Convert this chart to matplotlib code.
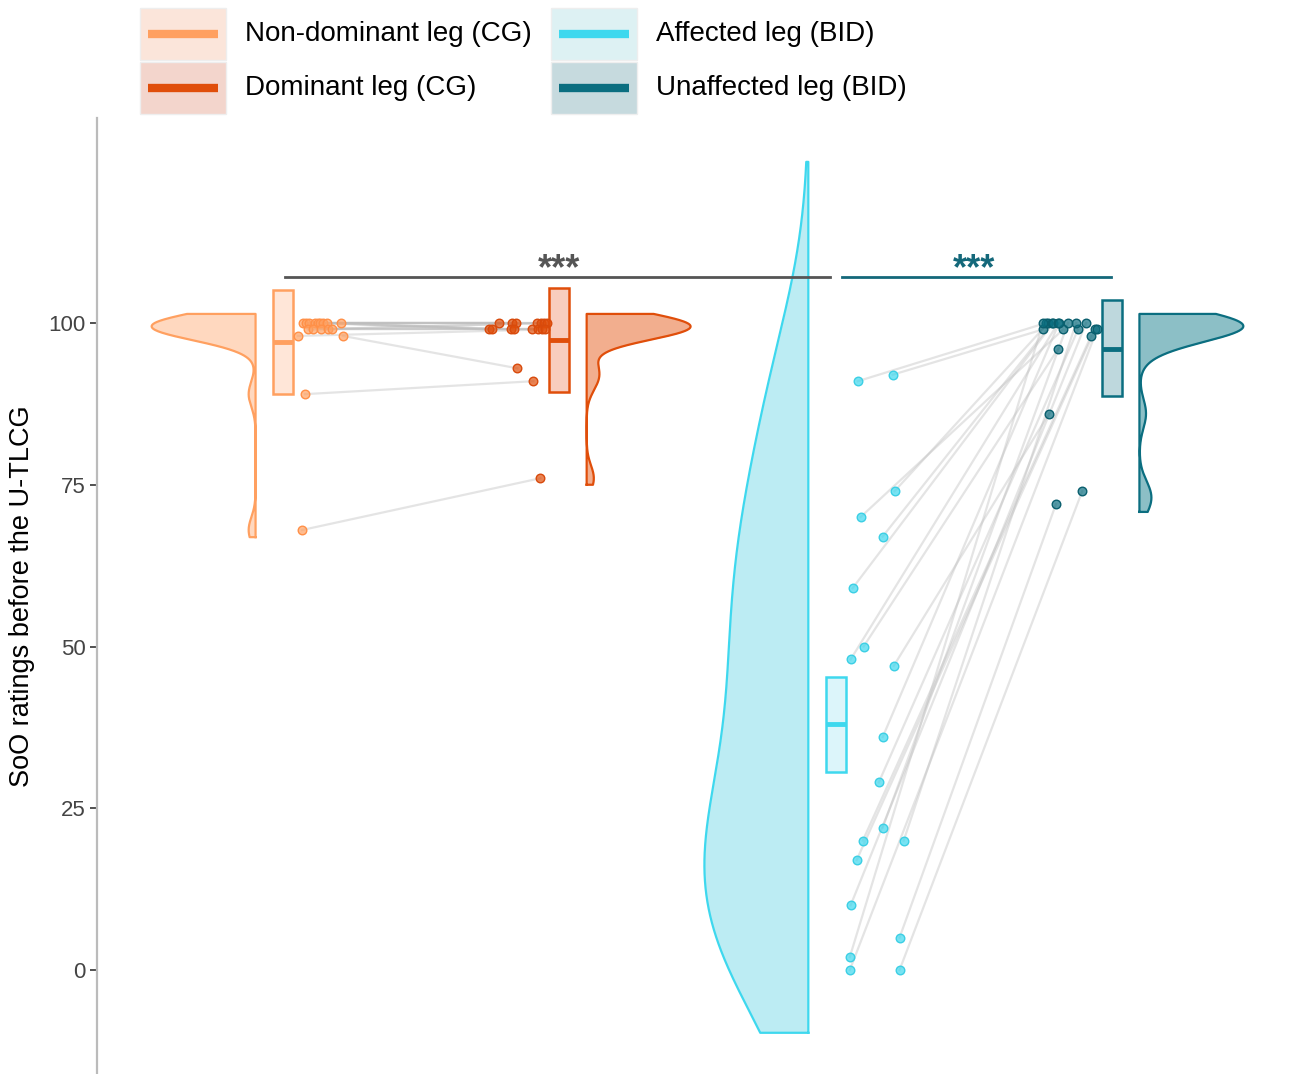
import matplotlib.pyplot as plt
import numpy as np
from matplotlib.colors import to_rgba
from matplotlib.patches import Rectangle
from matplotlib.lines import Line2D

plt.rcParams["font.family"] = ["Liberation Sans", "DejaVu Sans"]

# SoO ratings, paired within each group (same index = same participant)
non_dominant_cg = [100, 100, 100, 100, 100, 100, 100, 100, 100,
                   99, 99, 99, 99, 99, 98, 98, 89, 68]
dominant_cg = [100, 100, 100, 100, 100, 99, 99, 99, 99,
               100, 100, 99, 99, 99, 99, 93, 91, 76]
affected_bid = [92, 91, 74, 70, 67, 59, 50, 48, 47, 36,
                29, 22, 20, 20, 17, 10, 5, 2, 0, 0]
unaffected_bid = [99, 100, 100, 99, 100, 100, 96, 100, 86, 100,
                  99, 100, 98, 100, 99, 100, 72, 100, 99, 74]

# horizontal jitter of each point, in category units
jitter_non_dominant = [0.072, 0.083, 0.094, 0.116, 0.127, 0.134, 0.145, 0.159, 0.210,
                       0.090, 0.108, 0.137, 0.163, 0.177, 0.054, 0.217, 0.080, 0.069]
jitter_dominant = [-0.217, -0.170, -0.156, -0.080, -0.065, -0.253, -0.242, -0.174, -0.163,
                   -0.054, -0.043, -0.098, -0.076, -0.061, -0.051, -0.152, -0.094, -0.069]
jitter_affected = [0.206, 0.080, 0.213, 0.090, 0.170, 0.061, 0.101, 0.054, 0.210, 0.170,
                   0.156, 0.170, 0.098, 0.246, 0.076, 0.054, 0.231, 0.051, 0.051, 0.231]
jitter_unaffected = [-0.250, -0.239, -0.231, -0.177, -0.217, -0.213, -0.195, -0.195, -0.228, -0.192,
                     -0.123, -0.159, -0.076, -0.130, -0.061, -0.094, -0.203, -0.250, -0.054, -0.108]

group_labels = ["Non-dominant leg (CG)", "Dominant leg (CG)",
                "Affected leg (BID)", "Unaffected leg (BID)"]
box_low = [89.0, 89.3, 30.6, 88.7]
box_high = [105.1, 105.4, 45.3, 103.6]
violin_bw = [2.0, 2.0, 15.0, 2.3]
violin_lo = [66.9, 75.0, -9.7, 70.8]
violin_hi = [101.4, 101.4, 124.9, 101.4]

colors = ["#FFA060", "#E04E0A", "#3ED8EE", "#0B6E80"]
point_edge = ["#FF9048", "#D84A0C", "#3CCFE4", "#0A5F6E"]
violin_fill = ["#FFD8BF", "#F2AE8E", "#BCECF3", "#8CBFC6"]
box_fill = ["#FFE6D8", "#F8CDBE", "#DCF5FA", "#BED8DD"]
key_fill = ["#FBE5DA", "#F3D5CC", "#DDF1F3", "#C6DADE"]

positions = [1, 2, 3, 4]
sides = [-1, 1, -1, 1]          # which way each half violin opens
VIOLIN_GAP = 0.099
VIOLIN_WIDTH = 0.376
BOX_W = 0.072

groups = [non_dominant_cg, dominant_cg, affected_bid, unaffected_bid]
jitters = [jitter_non_dominant, jitter_dominant, jitter_affected, jitter_unaffected]

fig = plt.figure(figsize=(12.9, 10.74), dpi=100)
ax = fig.add_axes([97 / 1290, 0, 1 - 97 / 1290, 1 - 118 / 1074])
ax.set_xlim(0.3273, 4.6438)
ax.set_ylim(-16.07, 131.68)


def half_violin(vals, pos, side, bw, lo, hi, edge, fill):
    vals = np.asarray(vals, float)
    grid = np.linspace(lo, hi, 500)
    dens = np.exp(-0.5 * ((grid[:, None] - vals[None, :]) / bw) ** 2).sum(axis=1)
    dens = dens / dens.max() * VIOLIN_WIDTH
    base = pos + side * VIOLIN_GAP
    xs = base + side * dens
    ax.fill_betweenx(grid, base, xs, color=fill, lw=0, zorder=2)
    ox = np.concatenate([[base], xs, [base, base]])
    oy = np.concatenate([[lo], grid, [hi, lo]])
    ax.plot(ox, oy, color=edge, lw=1.6, zorder=3, solid_joinstyle="round")


# paired connection lines
for a, b, ja, jb, pa, pb in [(non_dominant_cg, dominant_cg, jitter_non_dominant, jitter_dominant, 1, 2),
                             (affected_bid, unaffected_bid, jitter_affected, jitter_unaffected, 3, 4)]:
    for ya, yb, xa, xb in zip(a, b, ja, jb):
        ax.plot([pa + xa, pb + xb], [ya, yb], color="#BDBDBD", alpha=0.4, lw=1.6, zorder=1)

for i, vals in enumerate(groups):
    pos = positions[i]
    half_violin(vals, pos, sides[i], violin_bw[i], violin_lo[i], violin_hi[i],
                colors[i], violin_fill[i])
    # box: mean with its interval
    ax.add_patch(Rectangle((pos - BOX_W / 2, box_low[i]), BOX_W, box_high[i] - box_low[i],
                           facecolor=box_fill[i], edgecolor=colors[i], lw=1.8, zorder=3))
    ax.plot([pos - BOX_W / 2, pos + BOX_W / 2], [np.mean(vals)] * 2,
            color=colors[i], lw=3.5, zorder=4, solid_capstyle="butt")
    xs = [pos + j for j in jitters[i]]
    ax.scatter(xs, vals, s=38, facecolor=to_rgba(colors[i], 0.7),
               edgecolor=point_edge[i], linewidth=1.0, zorder=5)

# significance brackets
ax.plot([1.007, 2.978], [107.1, 107.1], color="#555555", lw=2, zorder=6)
ax.text(2.0, 106.8, "***", ha="center", va="baseline", fontsize=26,
        fontweight="bold", color="#555555", zorder=6)
ax.plot([3.022, 3.997], [107.1, 107.1], color="#14687A", lw=2, zorder=6)
ax.text(3.5, 106.8, "***", ha="center", va="baseline", fontsize=26,
        fontweight="bold", color="#14687A", zorder=6)

for s in ["top", "right", "bottom"]:
    ax.spines[s].set_visible(False)
ax.spines["left"].set_color("#BBBBBB")
ax.spines["left"].set_linewidth(1.6)
ax.set_xticks([])
ax.set_yticks([0, 25, 50, 75, 100])
ax.tick_params(axis="y", length=5, width=1.2, color="#333333",
               labelsize=16, labelcolor="#444444", pad=3)
ax.set_ylabel("SoO ratings before the U-TLCG", fontsize=19.5, labelpad=10)

# legend, two columns of key boxes
key_cells = [(140, 8), (140, 62), (551, 8), (551, 62)]
for i, (kx, ky) in enumerate(key_cells):
    fig.add_artist(Rectangle((kx / 1290, 1 - (ky + 52) / 1074), 86 / 1290, 52 / 1074,
                             transform=fig.transFigure, facecolor=key_fill[i],
                             edgecolor="#EEEEEE", lw=1))
    yc = 1 - (ky + 26) / 1074
    fig.add_artist(Line2D([(kx + 8) / 1290, (kx + 78) / 1290], [yc, yc],
                          transform=fig.transFigure, color=colors[i], lw=6,
                          solid_capstyle="butt"))
    fig.text((kx + 105) / 1290, yc, group_labels[i], fontsize=20, va="center", ha="left")

fig.savefig("out.png", dpi=100)
